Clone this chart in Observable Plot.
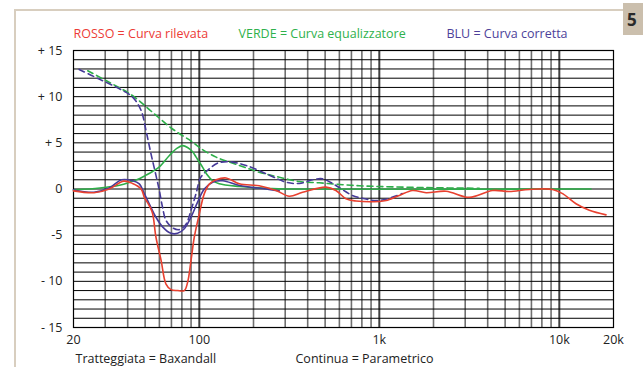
<!DOCTYPE html>
<html>
<head>
<meta charset="utf-8">
<script src="https://cdn.jsdelivr.net/npm/d3@7"></script>
<script src="https://cdn.jsdelivr.net/npm/@observablehq/plot@0.6"></script>
<style>
  html, body { margin: 0; padding: 0; background: #fff; }
  #wrap { position: relative; width: 643px; height: 367px; overflow: hidden; }
  #frameTop { position: absolute; left: 14px; top: 9px; width: 610px; height: 2px; background: #d8cebf; }
  #frameLeft { position: absolute; left: 14px; top: 9px; width: 2px; height: 360px; background: #d8cebf; }
  #badge { position: absolute; left: 623px; top: 3px; width: 24px; height: 32px; background: #cbbfad;
           font: bold 17px "Open Sans", sans-serif; color: #2a2a2a; padding-left: 4px; line-height: 34px; }
  #chart { position: absolute; left: 0; top: 0; }
</style>
</head>
<body>
<div id="wrap">
  <div id="frameTop"></div>
  <div id="frameLeft"></div>
  <div id="badge">5</div>
  <div id="chart"></div>
</div>
<script>
// ---- data (Hz, dB) ----
const redFreq = [20, 26, 31.6, 38, 42.6, 47.5, 49.5, 52.7, 55, 57.4, 61.3, 65.3, 69.6, 75.7, 82.5, 86.1, 89.9, 93.8, 100, 106.6, 114, 124, 141, 167, 215, 267, 316, 375, 506, 574, 653, 742, 1000, 1090, 1290, 1530, 1820, 2350, 3160, 4260, 5270, 6810, 9180, 10430, 12380, 14680, 18170];
const redDb   = [-0.2, -0.4, 0.0, 0.85, 0.6, 0.0, -0.9, -1.8, -2.65, -5.2, -7.7, -10.3, -10.9, -11.0, -11.0, -10.1, -7.75, -5.2, -2.7, -0.5, 0.56, 1.0, 1.2, 0.56, 0.35, -0.16, -0.78, -0.35, 0.2, -0.16, -1.06, -1.3, -1.35, -1.25, -0.7, -0.16, -0.4, -0.24, -0.9, -0.16, -0.27, -0.05, -0.05, -0.5, -1.6, -2.3, -2.8];

const greenFreq = [20, 28, 36, 42, 46.4, 50.6, 55, 60, 68, 75, 80.8, 86, 92, 96, 104, 110, 118.6, 129, 167, 250, 300, 15000];
const greenDb   = [-0.1, 0.1, 0.4, 0.8, 1.1, 1.5, 1.9, 2.4, 3.6, 4.4, 4.7, 4.5, 4.0, 3.45, 2.4, 1.6, 0.9, 0.56, 0.27, 0.05, 0, 0];

const blueFreq = [20, 26, 31.6, 37, 42.6, 46.4, 49.5, 52.7, 57.4, 62.5, 69.6, 75.7, 82.5, 89.9, 97.8, 106.6, 118.6, 135, 167, 235, 278];
const blueDb   = [-0.1, -0.35, 0.1, 1.0, 0.9, 0.56, -0.5, -1.6, -3.05, -4.1, -4.8, -4.8, -4.3, -3.05, -1.43, 0.0, 0.74, 0.9, 0.38, 0.0, -0.2];

const greenDashFreq = [24, 30.3, 42.6, 55, 71, 91.8, 100, 124, 167, 215, 278, 359, 464, 600, 774, 1000, 1800, 3590];
const greenDashDb   = [12.8, 11.75, 10.1, 8.3, 6.5, 5.07, 4.5, 3.45, 2.55, 1.82, 1.28, 0.81, 0.67, 0.49, 0.35, 0.27, 0.15, 0.08];

const blueDashFreq = [21.5, 27.8, 36, 42.6, 47.5, 50.6, 53.9, 57.4, 60, 62.5, 65.3, 71, 77.4, 84.4, 89.9, 95.9, 102, 114, 126, 147, 182, 245, 303, 359, 426, 484, 574, 708, 804, 959, 1090, 1340];
const blueDashDb   = [12.95, 11.9, 10.85, 9.95, 8.5, 6.3, 3.8, 1.5, -0.2, -2.0, -3.4, -4.2, -4.4, -3.8, -2.3, -0.5, 1.28, 2.2, 2.8, 2.95, 2.55, 1.5, 0.74, 0.6, 1.0, 1.1, 0.38, -0.7, -1.0, -1.25, -1.1, -0.5];

const yTickValues = [15, 10, 5, 0, -5, -10, -15];
const yTickLabels = ["+ 15", "+ 10", "+ 5", "0", "-5", "- 10", "- 15"];
const xTickValues = [20, 100, 1000, 10000, 20000];
const xTickLabels = ["20", "100", "1k", "10k", "20k"];
const gridMinor = [30, 40, 50, 60, 70, 80, 90, 200, 300, 400, 500, 600, 700, 800, 900, 2000, 3000, 4000, 5000, 6000, 7000, 8000, 9000];
const gridDecade = [100, 1000, 10000];
const gridDb = d3.range(-15, 16, 1);

const legendItems = ["ROSSO = Curva rilevata", "VERDE = Curva equalizzatore", "BLU = Curva corretta"];
const legendColors = ["#ec3b36", "#2fb14c", "#4d3f99"];
const captions = ["Tratteggiata = Baxandall", "Continua = Parametrico"];

const RED = "#e8402f", GREEN = "#2dae48", BLUE = "#463a98";
const zip = (f, v) => f.map((x, i) => ({f: x, v: v[i]}));
const font = "'Open Sans', sans-serif";

const chart = Plot.plot({
  width: 643,
  height: 367,
  marginLeft: 73,
  marginRight: 30,
  marginTop: 50,
  marginBottom: 40,
  style: {background: "transparent", fontFamily: font, overflow: "visible"},
  x: {type: "log", domain: [20, 20000], axis: null},
  y: {domain: [-15, 15], axis: null},
  marks: [
    Plot.ruleX(gridMinor, {stroke: "#707070", strokeWidth: 1.6}),
    Plot.ruleX(gridDecade, {stroke: "#404040", strokeWidth: 2}),
    Plot.ruleY(gridDb, {stroke: "#000", strokeWidth: 1}),
    Plot.frame({stroke: "#000", strokeWidth: 1.2}),
    Plot.line(zip(greenDashFreq, greenDashDb), {x: "f", y: "v", stroke: GREEN, strokeWidth: 1.6, strokeDasharray: "6,4", curve: "catmull-rom"}),
    Plot.line(zip(blueDashFreq, blueDashDb), {x: "f", y: "v", stroke: BLUE, strokeWidth: 1.6, strokeDasharray: "6,4", curve: "catmull-rom"}),
    Plot.line(zip(greenFreq, greenDb), {x: "f", y: "v", stroke: GREEN, strokeWidth: 1.6, curve: "catmull-rom"}),
    Plot.line(zip(blueFreq, blueDb), {x: "f", y: "v", stroke: BLUE, strokeWidth: 1.6, curve: "catmull-rom"}),
    Plot.line(zip(redFreq, redDb), {x: "f", y: "v", stroke: RED, strokeWidth: 1.6, curve: "catmull-rom"}),
    Plot.text(yTickValues, {x: 20, y: d => d, text: (d, i) => yTickLabels[i], dx: -11, textAnchor: "end", fontSize: 12.5, fill: "#222"}),
    Plot.text(xTickValues, {x: d => d, y: -15, text: (d, i) => xTickLabels[i], dy: 12, fontSize: 12.5, fill: "#222"}),
    Plot.text([legendItems[0]], {frameAnchor: "top-left", dx: 0, dy: -21, text: d => d, fill: legendColors[0], fontSize: 12.5, textAnchor: "start"}),
    Plot.text([legendItems[1]], {frameAnchor: "top-left", dx: 165, dy: -21, text: d => d, fill: legendColors[1], fontSize: 12.5, textAnchor: "start"}),
    Plot.text([legendItems[2]], {frameAnchor: "top-left", dx: 373, dy: -21, text: d => d, fill: legendColors[2], fontSize: 12.5, textAnchor: "start"}),
    Plot.text([captions[0]], {frameAnchor: "bottom-left", dx: 2, dy: 35, text: d => d, fill: "#222", fontSize: 12.5, textAnchor: "start"}),
    Plot.text([captions[1]], {frameAnchor: "bottom-left", dx: 222, dy: 35, text: d => d, fill: "#222", fontSize: 12.5, textAnchor: "start"})
  ]
});
document.getElementById("chart").appendChild(chart);
</script>
</body>
</html>
